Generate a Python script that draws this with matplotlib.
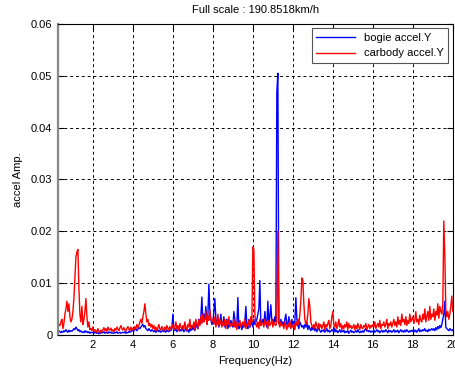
import numpy as np
import matplotlib
matplotlib.use("Agg")
import matplotlib.pyplot as plt

# spectrum amplitudes in units of 1e-4, sampled every 0.05 Hz from 0.25 Hz to 20 Hz
bogie_y = [
    5, 8, 6, 4, 7,
    5, 8, 6, 10, 7, 5, 9, 6, 8, 7,
    9, 12, 10, 15, 12, 8, 10, 6, 8, 5,
    6, 4, 8, 5, 7, 4, 6, 3, 5, 4,
    5, 3, 6, 4, 3, 5, 2, 4, 3, 5,
    4, 6, 3, 5, 4, 3, 6, 4, 5, 3,
    4, 3, 5, 4, 6, 3, 4, 5, 3, 4,
    5, 4, 6, 3, 5, 4, 7, 5, 6, 8,
    9, 7, 10, 12, 8, 11, 14, 12, 15, 18,
    20, 15, 18, 12, 10, 8, 12, 9, 7, 10,
    8, 6, 9, 5, 7, 10, 6, 8, 5, 7,
    9, 6, 8, 5, 10, 7, 6, 9, 8, 12,
    40, 10, 8, 12, 6, 9, 15, 7, 10, 8,
    12, 6, 9, 14, 7, 10, 5, 12, 8, 15,
    10, 18, 8, 25, 15, 12, 30, 20, 35, 73,
    25, 40, 30, 55, 20, 35, 98, 45, 30, 20,
    25, 45, 70, 30, 20, 35, 15, 25, 40, 18,
    20, 35, 15, 25, 30, 12, 22, 18, 28, 20,
    15, 45, 30, 15, 20, 72, 12, 25, 18, 10,
    20, 15, 25, 55, 18, 12, 30, 15, 20, 25,
    15, 30, 20, 25, 30, 40, 50, 105, 18, 25,
    30, 20, 45, 25, 15, 65, 20, 35, 58, 25,
    30, 20, 35, 25, 470, 505, 25, 18, 30, 20,
    25, 15, 30, 40, 20, 18, 35, 22, 15, 30,
    20, 15, 25, 72, 30, 18, 12, 25, 20, 15,
    18, 12, 20, 15, 25, 10, 18, 12, 8, 15,
    10, 15, 8, 12, 6, 10, 14, 8, 5, 9,
    7, 10, 5, 8, 12, 6, 9, 5, 7, 10,
    8, 5, 12, 6, 9, 4, 7, 10, 5, 8,
    6, 9, 4, 7, 5, 8, 3, 6, 9, 5,
    7, 4, 6, 8, 5, 10, 6, 4, 7, 5,
    8, 5, 10, 12, 7, 9, 6, 8, 5, 7,
    6, 9, 5, 7, 10, 6, 8, 4, 7, 9,
    5, 8, 6, 10, 7, 4, 9, 6, 8, 5,
    7, 10, 5, 8, 6, 9, 4, 7, 10, 6,
    8, 5, 9, 6, 10, 7, 5, 8, 6, 9,
    7, 10, 6, 9, 5, 8, 12, 6, 9, 7,
    10, 8, 12, 7, 9, 6, 11, 8, 10, 12,
    9, 12, 8, 14, 10, 16, 12, 18, 14, 20,
    30, 40, 65, 15, 12, 10, 8, 12, 10, 8,
    10,
]

carbody_y = [
    15, 20, 18, 25, 30,
    12, 22, 40, 50, 65, 45, 60, 35, 25, 30,
    45, 70, 110, 150, 160, 165, 90, 40, 25, 55,
    20, 30, 45, 70, 35, 15, 25, 10, 12, 8,
    15, 6, 10, 8, 5, 12, 7, 4, 9, 6,
    10, 14, 8, 12, 6, 15, 10, 9, 13, 7,
    10, 6, 12, 9, 15, 11, 8, 13, 18, 12,
    9, 14, 10, 7, 12, 16, 11, 8, 15, 10,
    13, 9, 16, 12, 20, 14, 18, 25, 30, 22,
    35, 45, 60, 40, 25, 30, 18, 22, 15, 20,
    12, 18, 10, 15, 8, 14, 20, 11, 9, 16,
    12, 8, 15, 10, 18, 13, 9, 16, 11, 14,
    20, 10, 15, 25, 12, 18, 8, 22, 15, 10,
    18, 12, 25, 14, 9, 20, 15, 30, 12, 18,
    15, 25, 10, 30, 20, 12, 28, 18, 35, 22,
    40, 25, 30, 45, 20, 35, 28, 48, 30, 25,
    30, 20, 35, 15, 25, 40, 18, 30, 22, 15,
    25, 18, 30, 12, 28, 20, 35, 15, 22, 18,
    20, 30, 15, 25, 10, 22, 18, 28, 15, 20,
    25, 15, 30, 12, 22, 18, 28, 15, 35, 25,
    170, 165, 40, 20, 15, 25, 12, 30, 18, 22,
    22, 15, 30, 20, 25, 12, 28, 18, 22, 30,
    15, 25, 20, 18, 25, 200, 22, 15, 25, 18,
    20, 12, 25, 18, 10, 22, 15, 28, 12, 18,
    15, 22, 10, 25, 18, 30, 20, 40, 65, 110,
    105, 60, 30, 20, 25, 40, 70, 55, 25, 18,
    15, 20, 12, 25, 18, 10, 22, 15, 20, 12,
    18, 25, 10, 20, 15, 22, 28, 12, 18, 35,
    45, 20, 15, 25, 12, 18, 30, 15, 22, 10,
    18, 12, 20, 15, 25, 10, 22, 14, 18, 12,
    15, 20, 10, 18, 12, 22, 15, 10, 20, 14,
    12, 18, 15, 22, 10, 16, 20, 12, 18, 15,
    20, 15, 25, 12, 18, 22, 15, 28, 12, 20,
    18, 25, 15, 20, 30, 12, 22, 18, 25, 15,
    22, 30, 18, 25, 15, 35, 20, 28, 18, 40,
    25, 30, 20, 35, 18, 28, 22, 40, 25, 30,
    35, 22, 28, 45, 25, 30, 20, 38, 28, 25,
    40, 30, 50, 25, 35, 45, 28, 55, 30, 40,
    35, 50, 28, 45, 38, 60, 32, 55, 45, 40,
    60, 220, 155, 50, 35, 45, 30, 40, 55, 75,
    45,
]

freq = 0.25 + 0.05 * np.arange(len(carbody_y))
bogie = np.array(bogie_y) * 1e-4
carbody = np.array(carbody_y) * 1e-4

x_ticks = [2, 4, 6, 8, 10, 12, 14, 16, 18, 20]
y_ticks = [0, 0.01, 0.02, 0.03, 0.04, 0.05, 0.06]
y_labels = ["0", "0.01", "0.02", "0.03", "0.04", "0.05", "0.06"]

plt.rcParams["font.family"] = ["Liberation Sans", "DejaVu Sans"]
fig = plt.figure(figsize=(4.56, 3.70), dpi=100)
ax = fig.add_axes([0.127, 0.095, 0.866, 0.84])

ax.plot(freq[:len(bogie)], bogie, color="#0000ff", lw=1.0, label="bogie accel.Y")
ax.plot(freq, carbody, color="#ff0000", lw=1.0, label="carbody accel.Y")

ax.set_xlim(0.25, 20)
ax.set_ylim(0, 0.06)
ax.set_xticks(x_ticks)
ax.set_yticks(y_ticks)
ax.set_yticklabels(y_labels)
ax.tick_params(direction="in", top=True, right=True, labelsize=8, length=4, pad=4)
ax.grid(True, color="black", linestyle=(0, (3, 3)), linewidth=0.7)
for s in ax.spines.values():
    s.set_linewidth(0.8)
ax.spines["left"].set_color("#888888")
ax.spines["left"].set_linewidth(1.6)

ax.set_title("Full scale : 190.8518km/h", fontsize=8, pad=8)
ax.set_xlabel("Frequency(Hz)", fontsize=8, labelpad=4)
ax.set_ylabel("accel Amp.", fontsize=8, labelpad=6)

leg = ax.legend(loc="upper right", fontsize=8, fancybox=False, framealpha=1,
                edgecolor="#555555", handlelength=3.5, borderaxespad=0.4)
leg.get_frame().set_linewidth(0.8)

fig.savefig("out.png", dpi=100)
